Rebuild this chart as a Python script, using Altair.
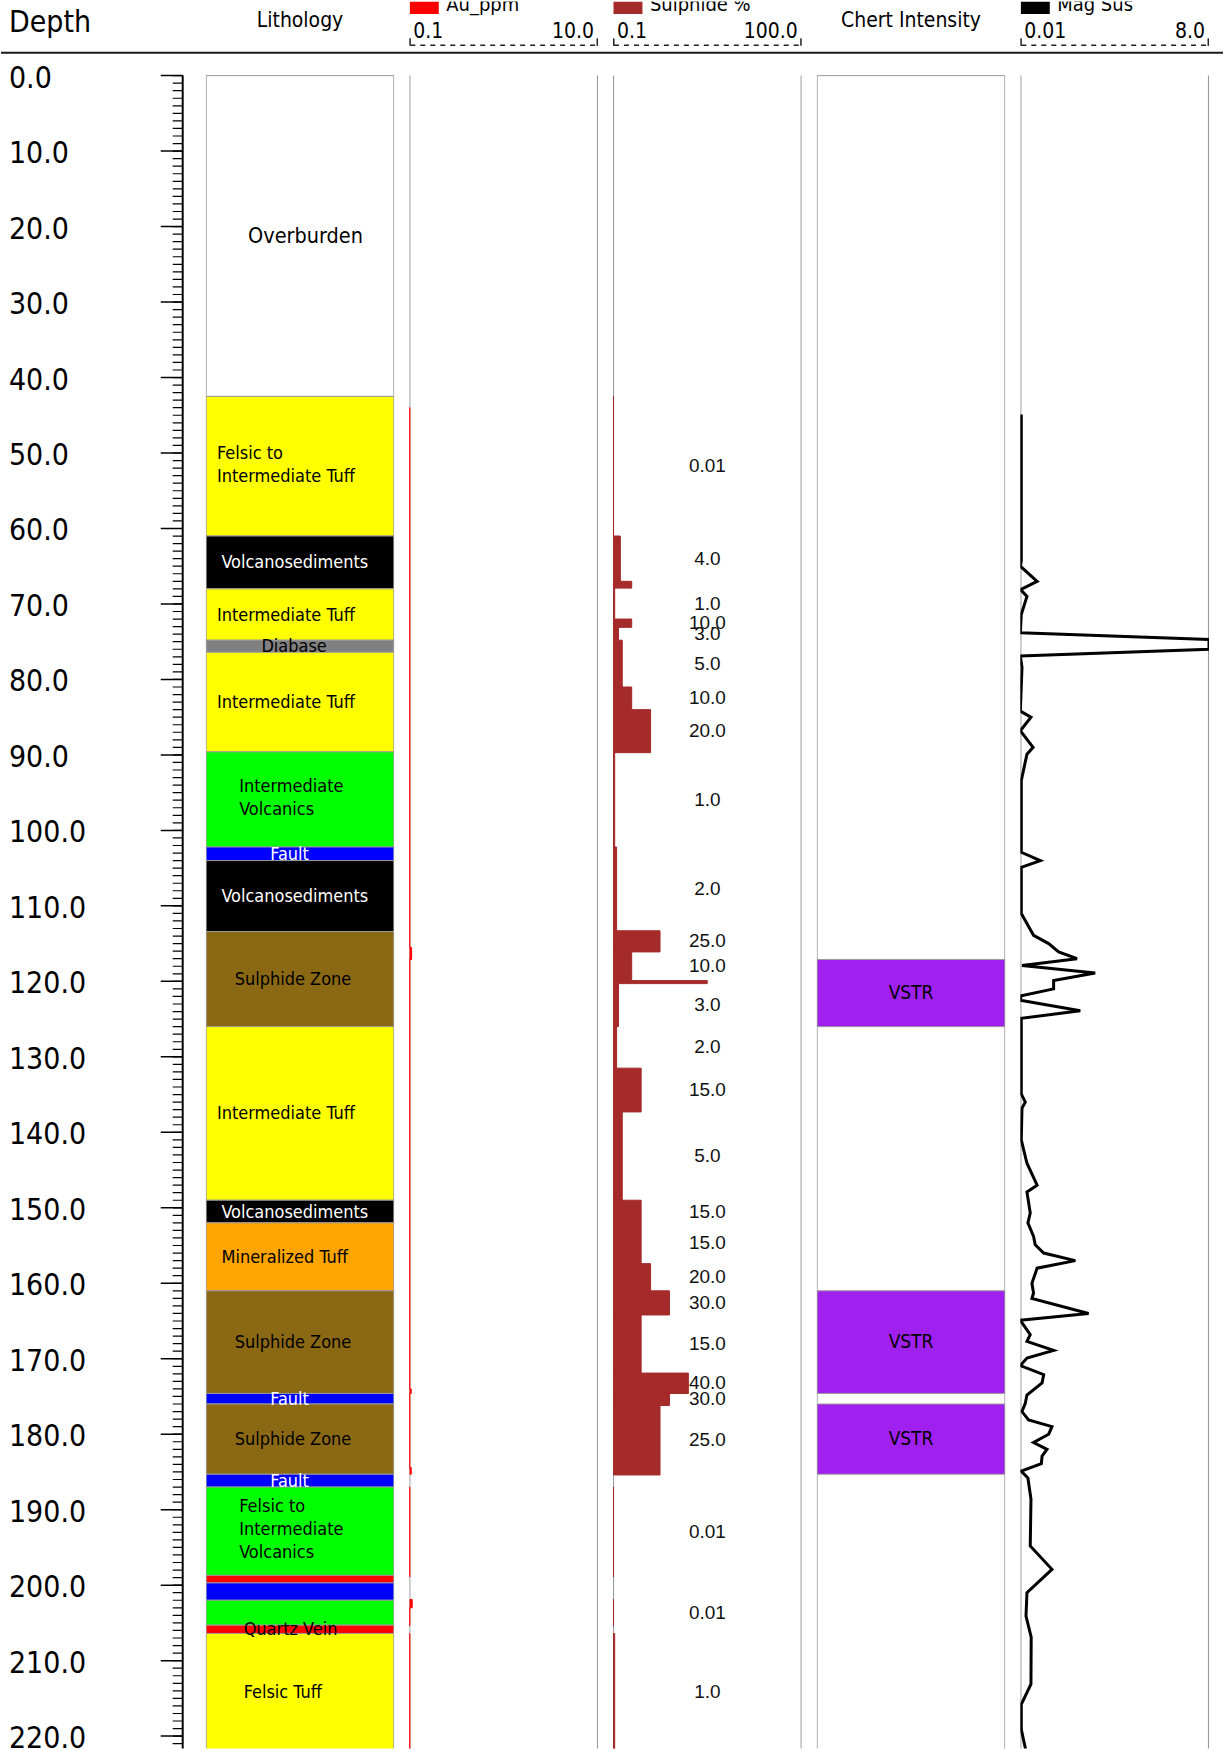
import altair as alt
import pandas as pd

# ---------------------------------------------------------------
# Drill-hole log: lithology, Au, sulphide %, chert intensity, mag sus
# ---------------------------------------------------------------
HOLE_END = 222.0          # end of hole (m)
VIEW_TOP = -9.83          # header band above the collar, in metres
VIEW_BOT = 221.65
PANEL_H = 1750
TRACK_W = 189

COND = "DejaVu Sans Condensed, DejaVu Sans, sans-serif"
ARIAL = "Liberation Sans, Arial, sans-serif"
GRID_GREY = "#9a9a9a"

# ---- lithology ----
lith_from = [0.0, 42.5, 61.0, 68.0, 74.8, 76.4, 89.6, 102.2, 104.0, 113.4, 126.0,
             149.0, 152.0, 161.0, 174.6, 176.0, 185.3, 187.0, 198.7, 199.7, 202.0,
             205.3, 206.4]
lith_to = lith_from[1:] + [HOLE_END]
lith_unit = ["Overburden", "Felsic to Intermediate Tuff", "Volcanosediments",
             "Intermediate Tuff", "Diabase", "Intermediate Tuff", "Intermediate Volcanics",
             "Fault", "Volcanosediments", "Sulphide Zone", "Intermediate Tuff",
             "Volcanosediments", "Mineralized Tuff", "Sulphide Zone", "Fault",
             "Sulphide Zone", "Fault", "Felsic to Intermediate Volcanics", "Quartz Vein",
             "Fault", "Felsic to Intermediate Volcanics", "Quartz Vein", "Felsic Tuff"]
lith_label = ["Overburden", "Felsic to\nIntermediate Tuff", "Volcanosediments",
              "Intermediate Tuff", "Diabase", "Intermediate Tuff", "Intermediate\nVolcanics",
              "Fault", "Volcanosediments", "Sulphide Zone", "Intermediate Tuff",
              "Volcanosediments", "Mineralized Tuff", "Sulphide Zone", "Fault",
              "Sulphide Zone", "Fault", "Felsic to\nIntermediate\nVolcanics", "",
              "", "", "Quartz Vein", "Felsic Tuff"]

unit_fill = {
    "Overburden": "#ffffff",
    "Felsic to Intermediate Tuff": "#ffff00",
    "Volcanosediments": "#000000",
    "Intermediate Tuff": "#ffff00",
    "Diabase": "#808080",
    "Intermediate Volcanics": "#00ff00",
    "Fault": "#0000ff",
    "Sulphide Zone": "#8b6914",
    "Mineralized Tuff": "#ffa500",
    "Felsic to Intermediate Volcanics": "#00ff00",
    "Quartz Vein": "#ff0000",
    "Felsic Tuff": "#ffff00",
}
light_text_units = {"Volcanosediments", "Fault"}

# ---- Au (ppm) ----
au_from = [44.0, 115.5, 117.1, 174.0, 174.6, 184.4, 187.0, 201.9, 203.0, 206.4]
au_to = [115.5, 117.1, 174.0, 174.6, 184.4, 185.3, 198.9, 203.0, 205.4, 222.0]
au_ppm = [0.02, 0.22, 0.02, 0.2, 0.02, 0.2, 0.02, 0.25, 0.02, 0.02]
au_range = [0.1, 10.0]

# ---- sulphide % ----
sul_from = [42.5, 61.0, 67.0, 67.9, 72.0, 73.1, 74.8, 81.0, 84.0, 89.7, 102.2, 113.3,
            116.1, 119.9, 120.3, 126.0, 131.5, 137.3, 149.0, 152.0, 157.4, 161.0, 164.2,
            171.9, 174.6, 176.2, 187.0, 201.9, 206.4]
sul_to = [61.0, 67.0, 67.9, 72.0, 73.1, 74.8, 81.0, 84.0, 89.7, 102.2, 113.3, 116.1,
          119.9, 120.3, 126.0, 131.5, 137.3, 149.0, 152.0, 157.4, 161.0, 164.2, 171.9,
          174.6, 176.2, 185.4, 198.9, 205.4, 222.0]
sul_pct = [0.01, 4.0, 10.0, 1.0, 10.0, 3.0, 5.0, 10.0, 20.0, 1.0, 2.0, 25.0, 10.0, 50.0,
           3.0, 2.0, 15.0, 5.0, 15.0, 15.0, 20.0, 30.0, 15.0, 40.0, 30.0, 25.0, 0.01,
           0.01, 1.0]
sul_range = [0.1, 100.0]

# ---- chert intensity ----
chert_from = [117.1, 161.0, 176.0]
chert_to = [126.0, 174.6, 185.3]
chert_code = ["VSTR", "VSTR", "VSTR"]

# ---- magnetic susceptibility ----
mag_depth = [44.9, 64.3, 65.0, 67.0, 68.1, 69.0, 71.4, 73.8, 74.7, 76.0, 76.9, 78.4,
             84.2, 85.0, 86.8, 89.0, 89.9, 93.4, 102.9, 104.0, 104.9, 111.0, 113.9,
             115.0, 116.1, 117.0, 117.9, 118.9, 119.9, 121.0, 121.9, 122.5, 123.9, 124.9,
             134.9, 136.0, 136.8, 141.0, 144.1, 147.0, 147.9, 150.7, 152.0, 153.8, 154.9,
             156.0, 157.0, 158.0, 160.0, 161.3, 162.0, 164.0, 164.9, 166.8, 167.7, 168.9,
             169.9, 170.9, 172.1, 173.2, 174.8, 175.9, 177.0, 178.1, 179.0, 180.0, 181.1,
             182.0, 182.9, 183.9, 184.9, 185.8, 188.6, 194.8, 197.9, 201.0, 204.1, 206.9,
             213.1, 215.8, 219.1, 222.0]
mag_sus = [0.05, 0.05, 0.01, 0.72, 0.02, 0.29, 0.05, 0.01, 8.0, 8.0, 0.01, 0.08,
           0.01, 0.46, 0.01, 0.55, 0.29, 0.05, 0.05, 0.86, 0.05, 0.05, 0.57,
           1.21, 1.63, 2.41, 0.08, 3.18, 1.42, 1.42, 0.05, 0.01, 2.55, 0.05,
           0.05, 0.22, 0.08, 0.05, 0.29, 0.72, 0.29, 0.43, 0.33, 0.57, 0.64,
           1.0, 2.34, 0.72, 0.5, 0.57, 0.5, 2.9, 0.01, 0.43, 0.29, 1.42,
           0.29, 0.01, 1.0, 0.93, 0.29, 0.22, 0.08, 0.36, 1.35, 1.21, 0.57,
           1.14, 0.93, 0.9, 0.05, 0.33, 0.46, 0.43, 1.35, 0.29, 0.25, 0.47,
           0.46, 0.05, 0.05, 0.25]
mag_range = [0.01, 8.0]

depth_major = list(range(0, 230, 10))
depth_minor = list(range(0, 223))

# ---------------------------------------------------------------
yscale = alt.Scale(domain=[VIEW_TOP, VIEW_BOT], reverse=True, nice=False, zero=False)
one_row = pd.DataFrame({"top": [0.0], "bottom": [HOLE_END]})


def fmt(v):
    return f"{v:.2f}" if v < 0.1 else f"{v:.1f}"


def y_span(a="top", b="bottom"):
    return dict(y=alt.Y(f"{a}:Q", scale=yscale, axis=None), y2=alt.Y2(f"{b}:Q"))


def side_rules():
    base = alt.Chart(one_row)
    left = base.mark_rule(color=GRID_GREY, strokeWidth=1.2, clip=True).encode(
        x=alt.value(0.5), **y_span())
    right = base.mark_rule(color=GRID_GREY, strokeWidth=1.2, clip=True).encode(
        x=alt.value(TRACK_W - 0.5), **y_span())
    return [left, right]


def track_header(title, swatch, lo_hi):
    hdr = pd.DataFrame({"title": [title], "lo": [fmt(lo_hi[0])], "hi": [fmt(lo_hi[1])]})
    base = alt.Chart(hdr)
    sw = base.mark_rect(color=swatch, clip=True).encode(
        x=alt.value(0.5), x2=alt.value(29.5), y=alt.value(0), y2=alt.value(12.5))
    name = base.mark_text(align="left", baseline="alphabetic", font=COND, fontSize=20,
                          color="black", clip=True).encode(
        x=alt.value(37), y=alt.value(9.5), text="title:N")
    lo = base.mark_text(align="left", baseline="alphabetic", font=COND, fontSize=21,
                        color="black").encode(x=alt.value(4), y=alt.value(37), text="lo:N")
    hi = base.mark_text(align="right", baseline="alphabetic", font=COND, fontSize=21,
                        color="black").encode(x=alt.value(TRACK_W - 4), y=alt.value(37),
                                              text="hi:N")
    dash = base.mark_rule(color="#222", strokeWidth=1.5, strokeDash=[5, 5]).encode(
        x=alt.value(1), x2=alt.value(TRACK_W - 1), y=alt.value(44))
    endl = base.mark_rule(color="#222", strokeWidth=1.5).encode(
        x=alt.value(0.75), y=alt.value(37), y2=alt.value(44.5))
    endr = base.mark_rule(color="#222", strokeWidth=1.5).encode(
        x=alt.value(TRACK_W - 0.75), y=alt.value(37), y2=alt.value(44.5))
    return [sw, name, lo, hi, dash, endl, endr]


def plain_header(title):
    base = alt.Chart(pd.DataFrame({"title": [title]}))
    return [base.mark_text(align="center", baseline="alphabetic", font=COND, fontSize=21,
                           color="black").encode(
        x=alt.value(TRACK_W / 2), y=alt.value(25.5), text="title:N")]


# ---- depth ruler ----
maj = pd.DataFrame({"d": depth_major})
mnr = pd.DataFrame({"d": depth_minor})
depth_title = alt.Chart(pd.DataFrame({"t": ["Depth"]})).mark_text(
    align="left", baseline="alphabetic", font=COND, fontSize=30, color="black").encode(
    x=alt.value(8), y=alt.value(31), text="t:N")
header_line = alt.Chart(pd.DataFrame({"t": ["line"]})).mark_rule(
    color="#1a1a1a", strokeWidth=2).encode(x=alt.value(0), x2=alt.value(1224), y=alt.value(51.5))
depth_labels = alt.Chart(maj).mark_text(
    align="left", baseline="middle", font=COND, fontSize=30, color="black", dy=3,
    clip=True).encode(
    x=alt.value(8), y=alt.Y("d:Q", scale=yscale, axis=None), text=alt.Text("d:Q", format=".1f"))
major_ticks = alt.Chart(maj).mark_rule(color="black", strokeWidth=1.5, clip=True).encode(
    x=alt.value(160), x2=alt.value(182), y=alt.Y("d:Q", scale=yscale, axis=None))
minor_ticks = alt.Chart(mnr).mark_rule(color="black", strokeWidth=1.2, clip=True).encode(
    x=alt.value(172), x2=alt.value(182), y=alt.Y("d:Q", scale=yscale, axis=None))
axis_line = alt.Chart(one_row).mark_rule(color="black", strokeWidth=2, clip=True).encode(
    x=alt.value(182), **y_span())
depth_panel = alt.layer(depth_title, header_line, depth_labels, major_ticks, minor_ticks,
                        axis_line).properties(width=190, height=PANEL_H)

# ---- lithology track ----
lith = pd.DataFrame({"top": lith_from, "bottom": lith_to, "unit": lith_unit,
                     "label": lith_label})
lith["lw"] = [max(len(s) for s in lab.split("\n")) for lab in lith_label]
lith["nl"] = [len(lab.split("\n")) for lab in lith_label]
units = list(unit_fill.keys())
fill_scale = alt.Scale(domain=units, range=[unit_fill[u] for u in units])
text_scale = alt.Scale(domain=units,
                       range=["#ffffff" if u in light_text_units else "#000000" for u in units])
lith_rects = alt.Chart(lith).mark_rect(stroke=GRID_GREY, strokeWidth=1, clip=True).encode(
    x=alt.value(0.5), x2=alt.value(TRACK_W - 0.5), **y_span(),
    fill=alt.Fill("unit:N", scale=fill_scale, legend=None))


def lith_text(n_lines, dy):
    # labels are centred as a block on their interval
    return alt.Chart(lith).transform_filter(
        f"datum.label != '' && datum.nl == {n_lines}").transform_calculate(
        mid="(datum.top + datum.bottom) / 2", lx="87 - 4.45 * datum.lw").mark_text(
        align="left", baseline="middle", font=COND, lineBreak="\n",
        lineHeight=23, dy=dy, clip=True).encode(
        x=alt.X("lx:Q", scale=None), y=alt.Y("mid:Q", scale=yscale, axis=None),
        text="label:N", color=alt.Color("unit:N", scale=text_scale, legend=None),
        size=alt.condition("datum.unit == 'Overburden'", alt.value(21.5), alt.value(18)))


lith_panel = alt.layer(*plain_header("Lithology"), lith_rects, lith_text(1, 1),
                       lith_text(2, -12), lith_text(3, -24)).properties(
    width=TRACK_W, height=PANEL_H)

# ---- Au track ----
au = pd.DataFrame({"top": au_from, "bottom": au_to, "au": au_ppm})
au_bars = alt.Chart(au).mark_rect(color="#ff0000", stroke="#ff0000", strokeWidth=1,
                                  clip=True).encode(
    x=alt.X("au:Q", scale=alt.Scale(domain=au_range, clamp=True, nice=False, zero=False),
            axis=None),
    x2=alt.value(0.5), **y_span())
au_panel = alt.layer(*track_header("Au_ppm", "#ff0000", au_range), *side_rules(),
                     au_bars).properties(width=TRACK_W, height=PANEL_H)

# ---- sulphide track ----
sul = pd.DataFrame({"top": sul_from, "bottom": sul_to, "pct": sul_pct})
sul_bars = alt.Chart(sul).mark_rect(color="#a52a2a", stroke="#a52a2a", strokeWidth=1,
                                    clip=True).encode(
    x=alt.X("pct:Q", scale=alt.Scale(domain=sul_range, clamp=True, nice=False, zero=False),
            axis=None),
    x2=alt.value(0.5), **y_span())
sul_text = alt.Chart(sul).transform_filter("datum.bottom - datum.top >= 1").transform_calculate(
    mid="(datum.top + datum.bottom) / 2",
    lab="datum.pct < 0.1 ? format(datum.pct, '.2f') : format(datum.pct, '.1f')").mark_text(
    align="center", baseline="middle", font=ARIAL, fontSize=19, color="#111",
    clip=True).encode(
    x=alt.value(TRACK_W / 2), y=alt.Y("mid:Q", scale=yscale, axis=None), text="lab:N")
sul_panel = alt.layer(*track_header("Sulphide %", "#a52a2a", sul_range), *side_rules(),
                      sul_bars, sul_text).properties(width=TRACK_W, height=PANEL_H)

# ---- chert intensity track ----
chert = pd.DataFrame({"top": chert_from, "bottom": chert_to, "code": chert_code})
chert_box = alt.Chart(one_row).mark_rect(fill="white", stroke=GRID_GREY, strokeWidth=1,
                                         clip=True).encode(
    x=alt.value(0.5), x2=alt.value(TRACK_W - 0.5), **y_span())
chert_rects = alt.Chart(chert).mark_rect(fill="#a020f0", stroke=GRID_GREY, strokeWidth=1,
                                         clip=True).encode(
    x=alt.value(0.5), x2=alt.value(TRACK_W - 0.5), **y_span())
chert_text = alt.Chart(chert).transform_calculate(
    mid="(datum.top + datum.bottom) / 2").mark_text(
    align="center", baseline="middle", font=COND, fontSize=19, color="black").encode(
    x=alt.value(TRACK_W / 2), y=alt.Y("mid:Q", scale=yscale, axis=None), text="code:N")
chert_panel = alt.layer(*plain_header("Chert Intensity"), chert_box, chert_rects,
                        chert_text).properties(width=TRACK_W, height=PANEL_H)

# ---- magnetic susceptibility track ----
mag = pd.DataFrame({"depth": mag_depth, "sus": mag_sus})
mag_line = alt.Chart(mag).mark_line(color="black", strokeWidth=3, strokeJoin="miter",
                                    clip=True).encode(
    x=alt.X("sus:Q", scale=alt.Scale(domain=mag_range, nice=False, zero=False), axis=None),
    y=alt.Y("depth:Q", scale=yscale, axis=None),
    order=alt.Order("depth:Q"))
mag_panel = alt.layer(*track_header("Mag Sus", "#000000", mag_range), *side_rules(),
                      mag_line).properties(width=TRACK_W, height=PANEL_H)

chart = alt.hconcat(depth_panel, lith_panel, au_panel, sul_panel, chert_panel, mag_panel,
                    spacing=15, bounds="flush").properties(
    padding=0, background="white").configure_view(stroke=None)

chart.save("out.html", embed_options={"renderer": "svg", "actions": False})
